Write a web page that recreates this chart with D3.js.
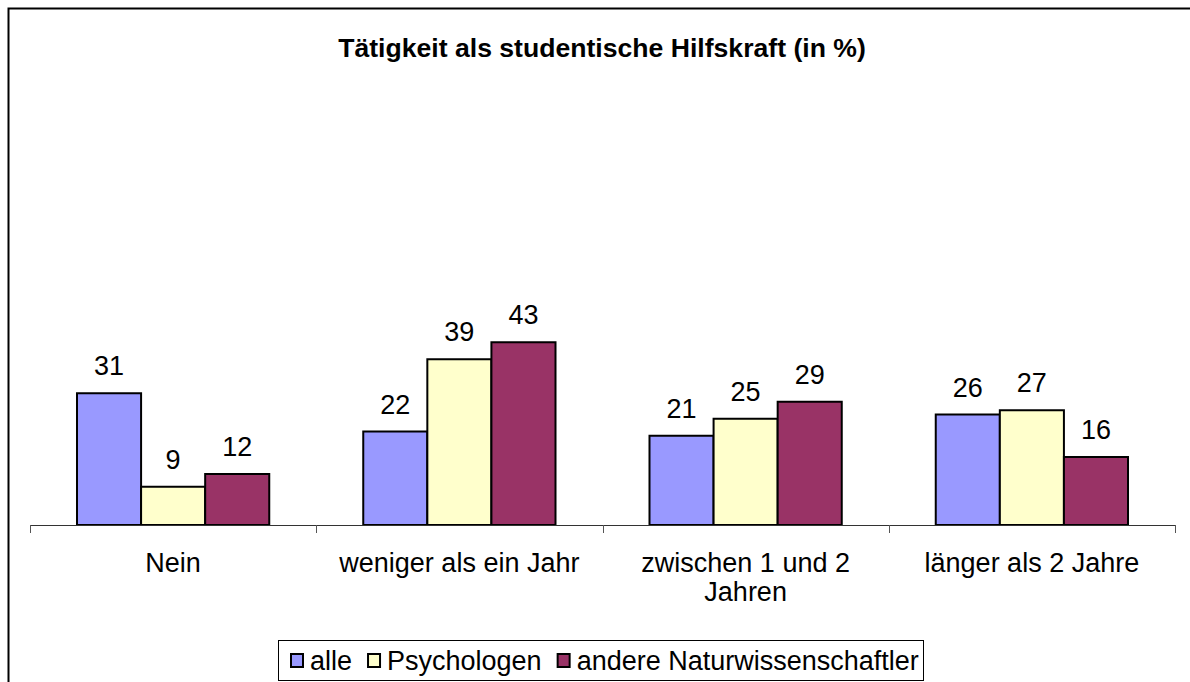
<!DOCTYPE html>
<html>
<head>
<meta charset="utf-8">
<script src="https://cdn.jsdelivr.net/npm/d3@7"></script>
<style>
  body { margin: 0; background: #fff; }
  svg { font-family: "Liberation Sans", Arial, sans-serif; }
</style>
</head>
<body>
<svg></svg>
<script>
var width = 1190;
var height = 682;

// data
var categories = [["Nein"], ["weniger als ein Jahr"], ["zwischen 1 und 2", "Jahren"], ["länger als 2 Jahre"]];
var seriesNames = ["alle", "Psychologen", "andere Naturwissenschaftler"];
var alle = [31, 22, 21, 26];
var psychologen = [9, 39, 25, 27];
var andere = [12, 43, 29, 16];
var colors = ["#9999ff", "#ffffcc", "#993366"];

var series = [alle, psychologen, andere];
var catKeys = categories.map(function(c) { return c.join(" "); });

var svg = d3.select('svg')
    .attr("width", width)
    .attr("height", height);

// chart frame (right and bottom run off the picture)
svg.append('rect')
    .attr("x", 8.5)
    .attr("y", 8.5)
    .attr("width", 1300)
    .attr("height", 800)
    .attr("fill", "#fff")
    .attr("stroke", "#000")
    .attr("stroke-width", 2);

svg.append('text')
    .attr("x", 602)
    .attr("y", 57)
    .attr("text-anchor", "middle")
    .attr("font-size", 26.6)
    .attr("font-weight", "bold")
    .text("Tätigkeit als studentische Hilfskraft (in %)");

var x0 = d3.scaleBand()
    .domain(catKeys)
    .range([30, 1175]);

var x1 = d3.scaleBand()
    .domain(d3.range(series.length))
    .range([47, x0.bandwidth() - 47]);

var y = d3.scaleLinear()
    .domain([0, 100])
    .range([525, 100]);

// bars
var groups = svg.append('g')
    .selectAll('g')
    .data(catKeys)
    .enter()
    .append('g')
    .attr("transform", function(d) { return "translate(" + x0(d) + ",0)"; });

groups.selectAll('rect')
    .data(function(d, i) { return series.map(function(s, j) { return {s: j, v: s[i]}; }); })
    .enter()
    .append('rect')
    .attr("x", function(d) { return x1(d.s); })
    .attr("y", function(d) { return y(d.v); })
    .attr("width", x1.bandwidth())
    .attr("height", function(d) { return y(0) - y(d.v); })
    .attr("fill", function(d) { return colors[d.s]; })
    .attr("stroke", "#000")
    .attr("stroke-width", 2);

groups.selectAll('text')
    .data(function(d, i) { return series.map(function(s, j) { return {s: j, v: s[i]}; }); })
    .enter()
    .append('text')
    .attr("x", function(d) { return x1(d.s) + x1.bandwidth() / 2; })
    .attr("y", function(d) { return y(d.v) - 18; })
    .attr("text-anchor", "middle")
    .attr("font-size", 27)
    .text(function(d) { return d.v; });

// x axis
svg.append('line')
    .attr("x1", 30)
    .attr("x2", 1175)
    .attr("y1", 525.5)
    .attr("y2", 525.5)
    .attr("stroke", "#333")
    .attr("stroke-width", 1);

var tickPos = catKeys.map(function(d) { return x0(d); }).concat([1175]);
svg.append('g')
    .selectAll('line')
    .data(tickPos)
    .enter()
    .append('line')
    .attr("x1", function(d) { return Math.round(d) + 0.5; })
    .attr("x2", function(d) { return Math.round(d) + 0.5; })
    .attr("y1", 525)
    .attr("y2", 533)
    .attr("stroke", "#555")
    .attr("stroke-width", 1);

var catLabels = svg.append('g')
    .selectAll('text')
    .data(categories)
    .enter()
    .append('text')
    .attr("text-anchor", "middle")
    .attr("font-size", 27)
    .attr("transform", function(d, i) { return "translate(" + (x0(catKeys[i]) + x0.bandwidth() / 2) + ",572)"; });

catLabels.selectAll('tspan')
    .data(function(d) { return d; })
    .enter()
    .append('tspan')
    .attr("x", 0)
    .attr("y", function(d, i) { return i * 29; })
    .text(function(d) { return d; });

// legend
var legend = svg.append('g');
legend.append('rect')
    .attr("x", 278.5)
    .attr("y", 640.5)
    .attr("width", 645)
    .attr("height", 40)
    .attr("fill", "#fff")
    .attr("stroke", "#000")
    .attr("stroke-width", 1);

var lx = 291;
seriesNames.forEach(function(name, i) {
    legend.append('rect')
        .attr("x", lx)
        .attr("y", 654)
        .attr("width", 12)
        .attr("height", 13)
        .attr("fill", colors[i])
        .attr("stroke", "#000")
        .attr("stroke-width", 2);
    var t = legend.append('text')
        .attr("x", lx + 19)
        .attr("y", 670)
        .attr("font-size", 27)
        .text(name);
    lx = lx + 19 + t.node().getComputedTextLength() + 16;
});
</script>
</body>
</html>
